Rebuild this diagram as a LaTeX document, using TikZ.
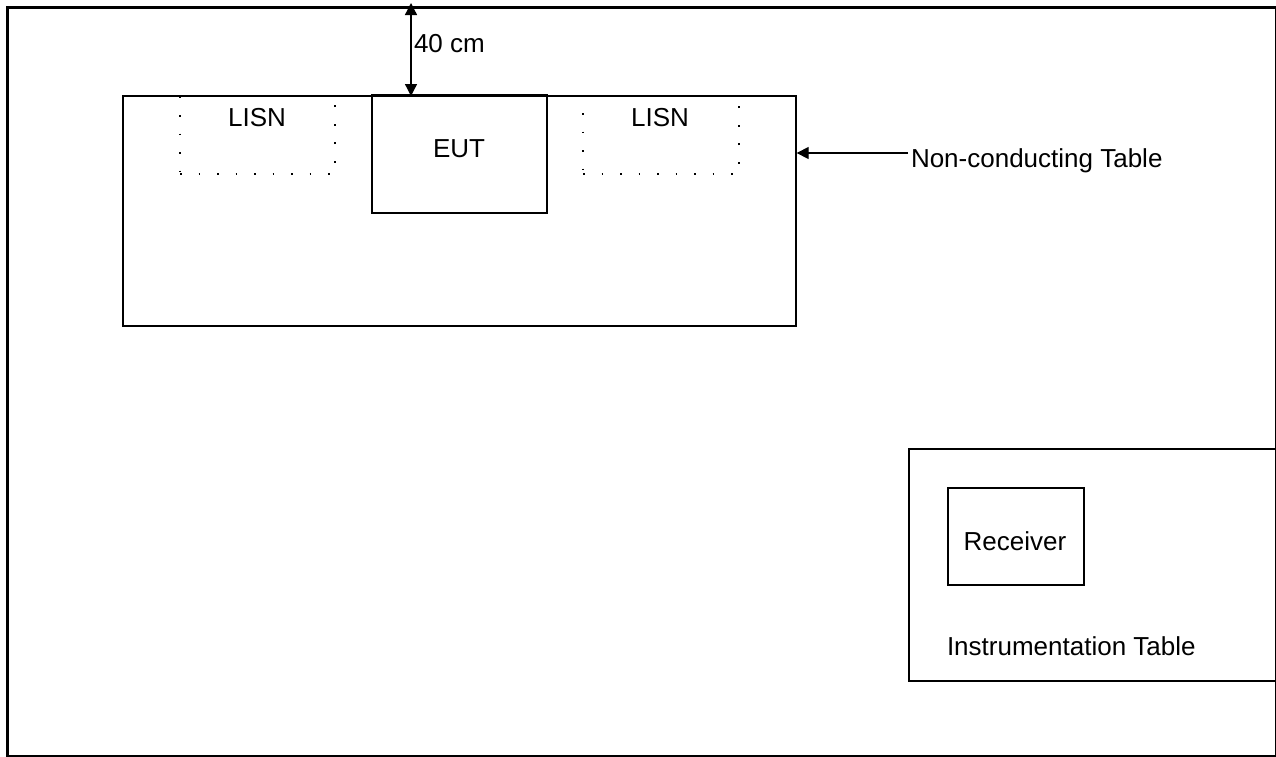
\documentclass[tikz,border=0pt]{standalone}
\usepackage{fontspec}
\setmainfont{Liberation Sans}
\usetikzlibrary{arrows.meta}
\begin{document}
\begin{tikzpicture}[x=1pt,y=-1pt,
  font=\fontsize{26}{30}\selectfont,
  thinbox/.style={draw,line width=1.3pt,inner sep=0pt},
  thickbox/.style={draw,line width=2.8pt,inner sep=0pt},
  dotbox/.style={draw,line width=1.7pt,dash pattern=on 1.7pt off 16.8pt,inner sep=0pt},
  lbl/.style={inner sep=0pt,outer sep=0pt},
  arr/.style={line width=1.3pt,-{Triangle[length=12pt,width=12pt]}},
  darr/.style={line width=1.3pt,{Triangle[length=12pt,width=12pt]}-{Triangle[length=12pt,width=12pt]}}]
\useasboundingbox (0,0) rectangle (1276,756);
% outer frame
\draw[line width=3pt] (7.5,7.5) rectangle (1276.5,756.5);
% non-conducting table
\node[thinbox,minimum width=673pt,minimum height=230pt] (table) at (459.5,211) {};
% LISNs
\node[dotbox,minimum width=155pt,minimum height=78pt] (lisnL) at (257.5,135) {};
\node[dotbox,minimum width=156pt,minimum height=78pt] (lisnR) at (661,135) {};
\node[lbl,anchor=base] (lisnLt) at (257,126) {LISN};
\node[lbl,anchor=base] (lisnRt) at (660,126) {LISN};
% EUT
\node[thickbox,minimum width=175pt,minimum height=118pt] (eut) at (459.5,154) {};
\node[lbl,anchor=base] (eutt) at (459,157) {EUT};
% 40 cm dimension
\coordinate (top) at (411,3);
\coordinate (tabtop) at (411,96);
\draw[darr] (top) -- (tabtop);
\node[lbl,anchor=base west] (dim) at (414,52) {40 cm};
% non-conducting table label
\node[lbl,anchor=base west] (nct) at (911,167) {Non-conducting Table};
\coordinate (nctail) at (908,153);
\coordinate (nctip) at (table.east |- nctail);
\draw[arr] (nctail) -- (nctip);
% instrumentation table
\draw[line width=1.5pt] (1276,449) -- (909,449) -- (909,681) -- (1276,681);
\node[thinbox,minimum width=136pt,minimum height=97pt] (rx) at (1016,536.5) {};
\node[lbl,anchor=base] (rxt) at (1015,550) {Receiver};
\node[lbl,anchor=base west] (itt) at (947,655) {Instrumentation Table};
\end{tikzpicture}
\end{document}
